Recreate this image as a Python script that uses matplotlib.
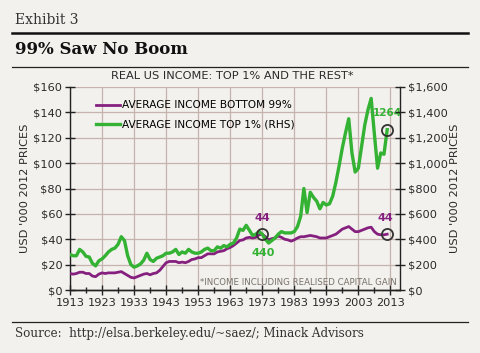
import matplotlib.pyplot as plt
from matplotlib.lines import Line2D

years = list(range(1913, 2013))

# average income bottom 99%, $'000 2012 prices (left axis)
bottom99 = [13, 12.5, 13, 14, 14, 13, 13, 11, 10.5, 12.5,
            13.5, 13, 13.5, 13.5, 13.5, 14, 14.5, 13, 11.5, 10,
            9.5, 10.5, 11.5, 12.5, 13, 12, 13, 13.5, 15.5, 18.5,
            21.5, 22.5, 22.5, 22.5, 21.5, 22, 21.5, 22.5, 24, 24.5,
            25.5, 25.5, 27, 28.5, 28.5, 28.5, 30, 30.5, 31, 32.5,
            33.5, 35, 37, 39, 39.5, 41, 41.5, 41, 41.5, 43.5,
            44, 42, 39.5, 40.5, 41, 42.5, 41.5, 40, 39.5, 38.5,
            39.5, 41, 42, 42, 42.5, 43, 42.5, 42, 41, 41,
            41, 42, 43, 44, 46, 48, 49, 50, 48, 46,
            46, 47, 48, 49, 49.5, 46, 44, 43.5, 43.5, 44]

# average income top 1%, $'000 2012 prices (right axis)
top1 = [280, 270, 270, 320, 300, 265, 260, 210, 190, 230,
        245, 270, 300, 320, 330, 360, 420, 390, 270, 200,
        180, 190, 205, 235, 290, 240, 225, 250, 260, 270,
        290, 290, 300, 320, 280, 300, 290, 320, 300, 290,
        290, 300, 320, 330, 310, 310, 340, 330, 350, 340,
        360, 370, 410, 480, 470, 510, 470, 430, 440, 460,
        440, 400, 370, 390, 410, 440, 460, 450, 450, 450,
        460, 500, 580, 800, 610, 770, 730, 700, 640, 690,
        670, 680, 740, 850, 980, 1120, 1240, 1350, 1080, 930,
        960, 1130, 1300, 1420, 1510, 1230, 960, 1080, 1070, 1264]

left_ticks = list(range(0, 161, 20))
right_ticks = list(range(0, 1601, 200))
decades = list(range(1913, 2014, 10))

bg = '#f2f1ed'
purple = '#86207f'
green = '#33b233'
grid_c = '#c6b3b0'
txt = '#2a2a2a'

fig = plt.figure(figsize=(4.8, 3.53), dpi=100, facecolor=bg)
ax = fig.add_axes([70/480, 63/353, 330/480, 203/353])
ax.set_facecolor(bg)
ax2 = ax.twinx()

ax.set_xlim(1913, 2016)
ax.set_ylim(0, 160)
ax2.set_ylim(0, 1600)

ax.set_xticks(decades)
ax.set_xticks(list(range(1918, 2016, 10)), minor=True)
ax.set_yticks(left_ticks)
ax.set_yticklabels(['$%d' % v for v in left_ticks])
ax2.set_yticks(right_ticks)
ax2.set_yticklabels(['${:,}'.format(v) for v in right_ticks])

ax.grid(True, color=grid_c, lw=0.9)
ax.set_axisbelow(True)

for a in (ax, ax2):
    a.spines['top'].set_visible(False)
    for s in ('left', 'right', 'bottom'):
        a.spines[s].set_color('#222222')
        a.spines[s].set_linewidth(1.0)
ax2.spines['left'].set_visible(False)
ax.spines['right'].set_visible(False)

ax.tick_params(axis='both', which='major', direction='inout', length=7, width=1,
               color='#222222', labelsize=8.2, labelcolor=txt, pad=2)
ax.tick_params(axis='x', which='minor', direction='inout', length=5, width=1, color='#222222')
ax2.tick_params(axis='y', direction='inout', length=7, width=1, color='#222222',
                labelsize=8.2, labelcolor=txt, pad=2)

l1, = ax.plot(years, bottom99, color=purple, lw=2.0, zorder=3)
l2, = ax2.plot(years, top1, color=green, lw=2.4, zorder=3)

# highlighted points
ax2.plot([1973], [top1[years.index(1973)]], 'o', ms=8, mfc='none', mec='#333333', mew=1.3, zorder=4)
ax2.plot([2012], [top1[-1]], 'o', ms=8, mfc='none', mec='#333333', mew=1.3, zorder=4)
ax.plot([2012], [bottom99[-1]], 'o', ms=8, mfc='none', mec='#333333', mew=1.3, zorder=4)

ax.text(1973, 56.5, '44', color=purple, fontsize=8, fontweight='bold', ha='center', va='center')
ax.text(1973.3, 29, '440', color=green, fontsize=8, fontweight='bold', ha='center', va='center')
ax.text(2011.5, 56.5, '44', color=purple, fontsize=8, fontweight='bold', ha='center', va='center')
ax.text(2012, 139.5, '1264', color=green, fontsize=7.5, fontweight='bold', ha='center', va='center')

ax.text(1953.5, 2, '*INCOME INCLUDING REALISED CAPITAL GAIN', color='#777068', fontsize=6.2,
        ha='left', va='bottom', zorder=5)

ax.set_ylabel("USD '000 2012 PRICES", fontsize=8.2, color=txt, labelpad=2)
ax2.set_ylabel("USD '000 2012 PRICES", fontsize=8.2, color=txt, labelpad=2)

ax.legend([l1, l2], ['AVERAGE INCOME BOTTOM 99%', 'AVERAGE INCOME TOP 1% (RHS)'],
          loc='upper left', bbox_to_anchor=(0.065, 0.955), frameon=False, fontsize=7.6,
          handlelength=2.3, handletextpad=0.2, labelspacing=0.9, borderaxespad=0)

# header and footer
fig.text(15/480, 1 - 20/353, 'Exhibit 3', family='DejaVu Serif', fontsize=10, color='#333333', va='center')
fig.add_artist(Line2D([12/480, 468/480], [1 - 33/353, 1 - 33/353], color='#111111', lw=1.8))
fig.text(15/480, 1 - 50/353, '99% Saw No Boom', family='DejaVu Serif', fontsize=12,
         fontweight='bold', color='#111111', va='center')
fig.add_artist(Line2D([12/480, 468/480], [1 - 67/353, 1 - 67/353], color='#222222', lw=0.9))
fig.text(232/480, 1 - 76/353, 'REAL US INCOME: TOP 1% AND THE REST*', fontsize=8.2, color=txt,
         ha='center', va='center')
fig.add_artist(Line2D([12/480, 468/480], [1 - 322/353, 1 - 322/353], color='#222222', lw=0.9))
fig.text(15/480, 1 - 334/353, 'Source:  http://elsa.berkeley.edu/~saez/; Minack Advisors',
         family='DejaVu Serif', fontsize=8.6, color='#333333', va='center')

fig.savefig('out.png', dpi=100, facecolor=bg)
